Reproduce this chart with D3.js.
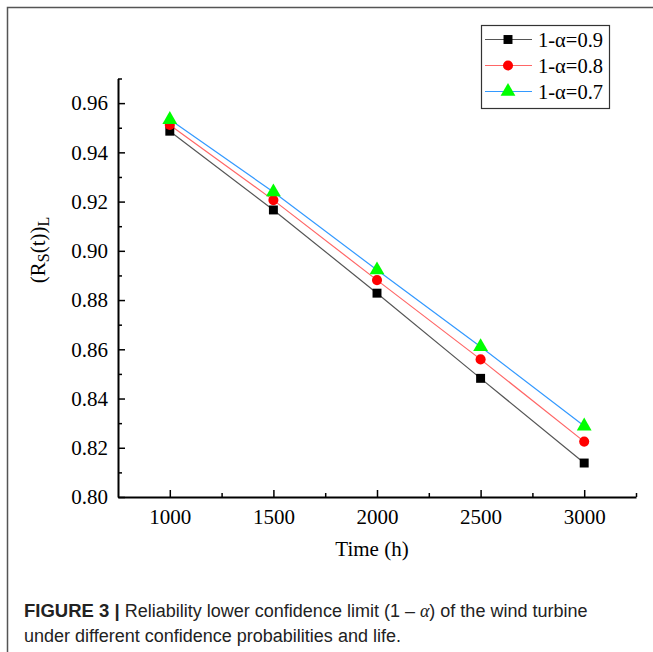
<!DOCTYPE html>
<html lang="en">
<head>
<meta charset="UTF-8" />
<title>Figure 3</title>
<script src="https://cdn.jsdelivr.net/npm/d3@7"></script>
<style>
  body { margin: 0; background: #fff; }
</style>
</head>
<body>
<script>
    const W = 653, H = 652;

    // data
    const times = [1000, 1500, 2000, 2500, 3000];
    const r09 = [0.9486, 0.9166, 0.8828, 0.8482, 0.8138];
    const r08 = [0.9511, 0.9206, 0.8881, 0.8559, 0.8225];
    const r07 = [0.9533, 0.9239, 0.8922, 0.8610, 0.8288];
    const seriesNames = ["1-\u03b1=0.9", "1-\u03b1=0.8", "1-\u03b1=0.7"];
    const xTicks = [1000, 1500, 2000, 2500, 3000];
    const xMinor = [1250, 1750, 2250, 2750, 3250];
    const yTicks = [0.80, 0.82, 0.84, 0.86, 0.88, 0.90, 0.92, 0.94, 0.96];
    const yMinor = [0.81, 0.83, 0.85, 0.87, 0.89, 0.91, 0.93, 0.95, 0.97];

    const lineColors = ["#555555", "#ff6666", "#3399ff"];
    const markColors = ["#000000", "#ff0000", "#00ff00"];
    const shapes = [d3.symbolSquare, d3.symbolCircle, d3.symbolTriangle];
    const shapeSize = [80, 80, 95];

    let svg = d3.select("body").append("svg")
        .attr("width", W)
        .attr("height", H);

    // frame of the figure panel
    svg.append("path")
        .attr("d", "M7.5," + H + "V7.5H" + W)
        .attr("fill", "none")
        .attr("stroke", "#555")
        .attr("stroke-width", 1.5);

    let x = d3.scaleLinear().domain([750, 3250]).range([118, 636]);
    let y = d3.scaleLinear().domain([0.80, 0.97]).range([497, 78.5]);

    let serif = "'Liberation Serif', 'Times New Roman', serif";

    // minor ticks
    svg.append("g")
        .attr("transform", "translate(0,497)")
        .call(d3.axisBottom(x).tickValues(xMinor).tickSize(-4).tickFormat(""))
        .call(g => g.select(".domain").remove())
        .selectAll("line").attr("stroke-width", 1.5);
    svg.append("g")
        .attr("transform", "translate(118,0)")
        .call(d3.axisLeft(y).tickValues(yMinor).tickSize(-4).tickFormat(""))
        .call(g => g.select(".domain").remove())
        .selectAll("line").attr("stroke-width", 1.5);

    // major axes
    let xa = svg.append("g")
        .attr("transform", "translate(0,497)")
        .call(d3.axisBottom(x).tickValues(xTicks).tickSize(-7).tickSizeOuter(0).tickPadding(12)
            .tickFormat(d3.format("d")));
    let ya = svg.append("g")
        .attr("transform", "translate(118,0)")
        .call(d3.axisLeft(y).tickValues(yTicks).tickSize(-7).tickSizeOuter(0).tickPadding(10)
            .tickFormat(d3.format(".2f")));
    [xa, ya].forEach(a => {
        a.select(".domain").attr("stroke-width", 2);
        a.selectAll(".tick line").attr("stroke-width", 1.5);
        a.selectAll("text").attr("font-family", serif).attr("font-size", 21).attr("fill", "#000");
    });

    // axis titles
    svg.append("text")
        .attr("x", 372).attr("y", 556)
        .attr("text-anchor", "middle")
        .attr("font-family", serif).attr("font-size", 21)
        .text("Time (h)");

    let yl = svg.append("text")
        .attr("transform", "translate(45,250) rotate(-90)")
        .attr("text-anchor", "middle")
        .attr("font-family", serif).attr("font-size", 21);
    yl.append("tspan").text("(R");
    yl.append("tspan").attr("font-size", 16).attr("dy", 4).text("S");
    yl.append("tspan").attr("dy", -4).text("(t))");
    yl.append("tspan").attr("font-size", 16).attr("dy", 4).text("L");

    // series
    let all = [r09, r08, r07];
    let line = d3.line().x((d, i) => x(times[i])).y(d => y(d));
    all.forEach((vals, k) => {
        svg.append("path")
            .attr("d", line(vals))
            .attr("fill", "none")
            .attr("stroke", lineColors[k])
            .attr("stroke-width", 1.2);
    });
    all.forEach((vals, k) => {
        svg.selectAll(".m" + k)
            .data(vals)
            .enter().append("path")
            .attr("class", "m" + k)
            .attr("transform", (d, i) => "translate(" + x(times[i]) + "," + y(d) + ")")
            .attr("d", d3.symbol().type(shapes[k]).size(shapeSize[k]))
            .attr("fill", markColors[k]);
    });

    // legend
    let lg = svg.append("g");
    lg.append("rect")
        .attr("x", 481.5).attr("y", 25.5)
        .attr("width", 128).attr("height", 83)
        .attr("fill", "#fff")
        .attr("stroke", "#333").attr("stroke-width", 1.2);
    seriesNames.forEach((name, k) => {
        let ry = 39.5 + k * 26;
        lg.append("line")
            .attr("x1", 485).attr("x2", 532)
            .attr("y1", ry).attr("y2", ry)
            .attr("stroke", lineColors[k]).attr("stroke-width", 1.2);
        lg.append("path")
            .attr("transform", "translate(508," + ry + ")")
            .attr("d", d3.symbol().type(shapes[k]).size(shapeSize[k]))
            .attr("fill", markColors[k]);
        lg.append("text")
            .attr("x", 538).attr("y", ry + 7)
            .attr("font-family", serif).attr("font-size", 20.5)
            .text(name);
    });

    // caption
    let sans = "'Liberation Sans', Arial, sans-serif";
    let c1 = svg.append("text")
        .attr("x", 24).attr("y", 617)
        .attr("font-family", sans).attr("font-size", 18).attr("fill", "#222");
    c1.append("tspan").attr("font-weight", "bold").attr("font-size", 18.5).text("FIGURE 3 | ");
    c1.append("tspan").text("Reliability lower confidence limit (1 \u2013 ");
    c1.append("tspan").attr("font-family", serif).attr("font-style", "italic").text("\u03b1");
    c1.append("tspan").text(") of the wind turbine");
    svg.append("text")
        .attr("x", 24).attr("y", 642)
        .attr("font-family", sans).attr("font-size", 18).attr("fill", "#222")
        .text("under different confidence probabilities and life.");
</script>
</body>
</html>
